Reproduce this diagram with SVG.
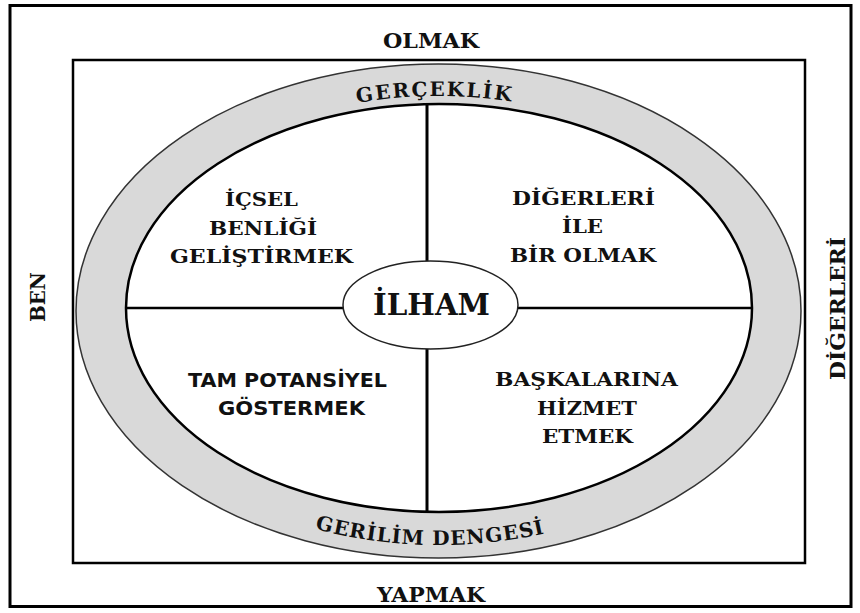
<svg xmlns="http://www.w3.org/2000/svg" width="860" height="613" viewBox="0 0 860 613">
  <style>
    .serif { font-family: "DejaVu Serif", "Liberation Serif", serif; font-weight: bold; fill: #111; }
    .sans { font-family: "DejaVu Sans", "Liberation Sans", sans-serif; font-weight: bold; fill: #111; }
    .quad { font-size: 19px; text-anchor: middle; }
    .axis { font-size: 20px; text-anchor: middle; }
    .band { font-size: 20px; }
  </style>
  <defs>
    <!-- baselines for the ring captions -->
    <path id="arcTop" d="M 119 310 A 320 214 0 0 1 759 310"/>
    <path id="arcBottom" d="M 99 310 A 340 235 0 0 0 779 310"/>
  </defs>

  <rect width="860" height="613" fill="#fff"/>

  <!-- outer frame and axis box -->
  <g id="frame">
    <rect x="10" y="5.5" width="841" height="601" fill="none" stroke="#000" stroke-width="3"/>
    <rect x="73" y="60" width="732" height="503" fill="none" stroke="#000" stroke-width="2.5"/>
  </g>

  <!-- ring -->
  <g id="ring">
    <ellipse cx="438.5" cy="311" rx="362.5" ry="247" fill="#d9d9d9" stroke="#333" stroke-width="1.5"/>
    <ellipse cx="439" cy="308" rx="313" ry="204" fill="#fff" stroke="#000" stroke-width="2.5"/>
  </g>

  <!-- quadrant dividers -->
  <g id="connectors" stroke="#000">
    <line x1="427" y1="104" x2="427" y2="512" stroke-width="3"/>
    <line x1="126" y1="308" x2="752" y2="308" stroke-width="2.5"/>
  </g>

  <!-- ring captions -->
  <g id="ring-top">
    <text class="serif band" letter-spacing="2"><textPath href="#arcTop" startOffset="49.5%" text-anchor="middle">GERÇEKLİK</textPath></text>
  </g>
  <g id="ring-bottom">
    <text class="serif band" letter-spacing="1"><textPath href="#arcBottom" startOffset="49%" text-anchor="middle">GERİLİM DENGESİ</textPath></text>
  </g>

  <!-- centre -->
  <g id="center">
    <ellipse cx="430.5" cy="305" rx="87.5" ry="44" fill="#fff" stroke="#222" stroke-width="1.5"/>
    <text class="serif" x="431.5" y="315" font-size="30" text-anchor="middle" textLength="117" lengthAdjust="spacingAndGlyphs">İLHAM</text>
  </g>

  <!-- quadrants -->
  <g id="q-top-left" class="serif quad">
    <text x="261.5" y="206" textLength="73" lengthAdjust="spacingAndGlyphs">İÇSEL</text>
    <text x="263" y="235" textLength="108" lengthAdjust="spacingAndGlyphs">BENLİĞİ</text>
    <text x="261.5" y="263" textLength="183" lengthAdjust="spacingAndGlyphs">GELİŞTİRMEK</text>
  </g>
  <g id="q-top-right" class="serif quad">
    <text x="583.5" y="205" textLength="143" lengthAdjust="spacingAndGlyphs">DİĞERLERİ</text>
    <text x="582.5" y="233" textLength="41" lengthAdjust="spacingAndGlyphs">İLE</text>
    <text x="583" y="262" textLength="146" lengthAdjust="spacingAndGlyphs">BİR OLMAK</text>
  </g>
  <g id="q-bottom-left" class="sans quad">
    <text x="287.5" y="387" textLength="199" lengthAdjust="spacingAndGlyphs">TAM POTANSİYEL</text>
    <text x="291.5" y="415" textLength="147" lengthAdjust="spacingAndGlyphs">GÖSTERMEK</text>
  </g>
  <g id="q-bottom-right" class="serif quad">
    <text x="586.5" y="386" textLength="183" lengthAdjust="spacingAndGlyphs">BAŞKALARINA</text>
    <text x="587" y="415" textLength="100" lengthAdjust="spacingAndGlyphs">HİZMET</text>
    <text x="587.5" y="443" textLength="91" lengthAdjust="spacingAndGlyphs">ETMEK</text>
  </g>

  <!-- axis labels -->
  <g id="axis-top" class="serif axis">
    <text x="431" y="48" textLength="96" lengthAdjust="spacingAndGlyphs">OLMAK</text>
  </g>
  <g id="axis-bottom" class="serif axis">
    <text x="431" y="602" textLength="108" lengthAdjust="spacingAndGlyphs">YAPMAK</text>
  </g>
  <g id="axis-left" class="serif axis">
    <text transform="translate(45,297) rotate(-90)" textLength="50" lengthAdjust="spacingAndGlyphs">BEN</text>
  </g>
  <g id="axis-right" class="serif axis">
    <text transform="translate(845,308.5) rotate(-90)" textLength="143" lengthAdjust="spacingAndGlyphs">DİĞERLERİ</text>
  </g>
</svg>
